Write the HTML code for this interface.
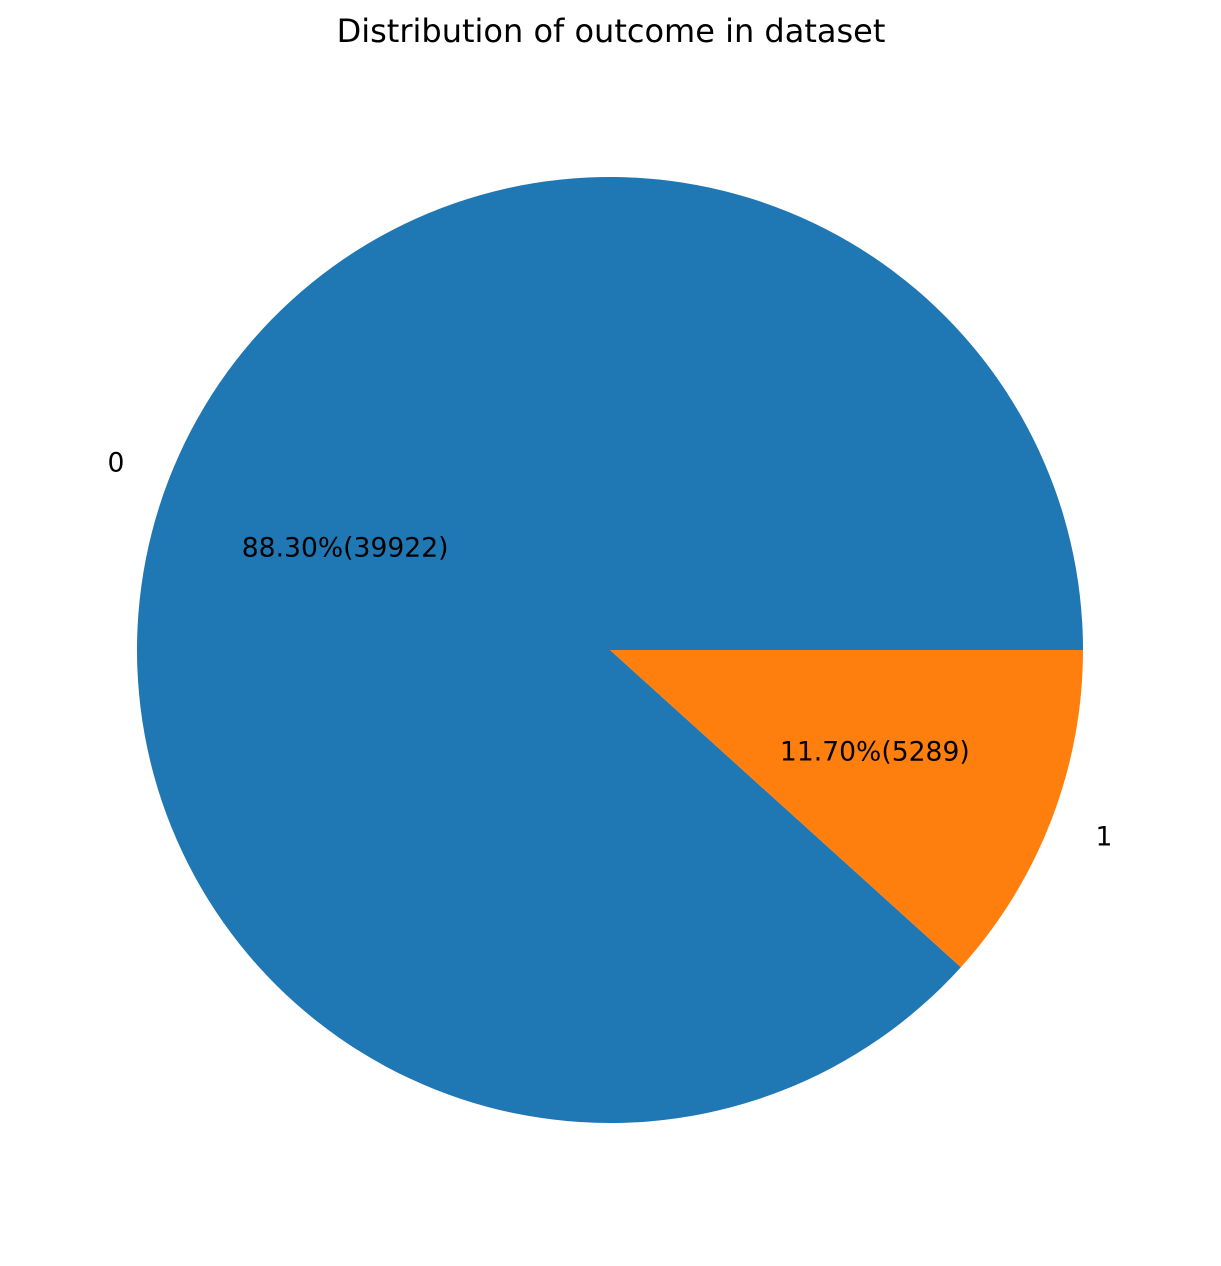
<!DOCTYPE html>
<html><head><meta charset="utf-8"><style>
html,body{margin:0;padding:0;background:#fff;}
svg text{font-family:"DejaVu Sans","Liberation Sans",sans-serif;}
</style></head><body>
<svg id="chart" width="1221" height="1261" viewBox="0 0 1221 1261" xmlns="http://www.w3.org/2000/svg">
<text x="611" y="42" font-size="32" text-anchor="middle" fill="#000">Distribution of outcome in dataset</text>
<g id="slices"></g>
</svg>
<script>
const categories = ["0", "1"];
const counts = [39922, 5289];
const colors = ["#1f77b4", "#ff7f0e"];
const cx = 610, cy = 650, r = 473;
const svg = document.getElementById('slices');
const NS = "http://www.w3.org/2000/svg";
const total = counts.reduce((a,b)=>a+b,0);
let start = 0;
function pt(f, a){ return [cx + f*r*Math.cos(a), cy - f*r*Math.sin(a)]; }
counts.forEach((v,i)=>{
  const frac = v/total;
  const a0 = start*2*Math.PI, a1 = (start+frac)*2*Math.PI;
  const p0 = pt(1,a0), p1 = pt(1,a1);
  const large = frac > 0.5 ? 1 : 0;
  const path = document.createElementNS(NS,'path');
  path.setAttribute('d', `M${cx},${cy} L${p0[0]},${p0[1]} A${r},${r} 0 ${large} 0 ${p1[0]},${p1[1]} Z`);
  path.setAttribute('fill', colors[i]);
  
  
  svg.appendChild(path);
  const mid = (a0+a1)/2;
  const lp = pt(1.1, mid);
  const lab = document.createElementNS(NS,'text');
  lab.setAttribute('x', lp[0]); lab.setAttribute('y', lp[1]);
  lab.setAttribute('font-size', '26.6');
  lab.setAttribute('dominant-baseline', 'central');
  lab.setAttribute('text-anchor', lp[0] < cx ? 'end' : 'start');
  
  
  lab.textContent = categories[i];
  svg.appendChild(lab);
  const pp = pt(0.6, mid);
  const pct = document.createElementNS(NS,'text');
  pct.setAttribute('x', pp[0]); pct.setAttribute('y', pp[1]);
  pct.setAttribute('font-size', '26.6');
  pct.setAttribute('dominant-baseline', 'central');
  pct.setAttribute('text-anchor', 'middle');
  
  
  pct.textContent = (frac*100).toFixed(2) + '%(' + v + ')';
  svg.appendChild(pct);
  start += frac;
});
</script>
</body></html>
